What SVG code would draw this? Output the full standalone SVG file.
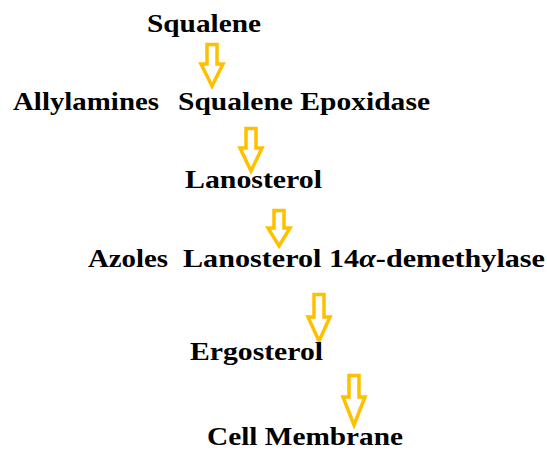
<svg xmlns="http://www.w3.org/2000/svg" width="547" height="452" viewBox="0 0 547 452">
<style>
.t{font-family:"Liberation Serif","Times New Roman",serif;font-weight:bold;font-size:26px;fill:#000}
.a{fill:#fff;stroke:#FFC000;stroke-width:3.5;stroke-linejoin:miter}
</style>
<rect width="547" height="452" fill="#fff"/>
<g id="connectors">
<path class="a" d="M207,44.5 H217 V64 H223 L212,86 L201,64 H207 Z"/>
<path class="a" d="M246,128.5 H256 V148 H262 L251,171 L240,148 H246 Z"/>
<path class="a" d="M274,210.5 H284 V228 H290 L279,246 L268,228 H274 Z"/>
<path class="a" d="M314,294.5 H324 V317 H330 L319,341 L308,317 H314 Z"/>
<path class="a" d="M349,375.5 H359 V397 H365 L354,425 L343,397 H349 Z"/>
</g>
<g id="squalene"><text class="t" x="147" y="32" textLength="114" lengthAdjust="spacingAndGlyphs">Squalene</text></g>
<g id="allylamines"><text class="t" x="13" y="110" textLength="146" lengthAdjust="spacingAndGlyphs">Allylamines</text></g>
<g id="squalene-epoxidase"><text class="t" x="178" y="110" textLength="252" lengthAdjust="spacingAndGlyphs">Squalene Epoxidase</text></g>
<g id="lanosterol"><text class="t" x="185" y="188" textLength="137" lengthAdjust="spacingAndGlyphs">Lanosterol</text></g>
<g id="azoles"><text class="t" x="88" y="267" textLength="80" lengthAdjust="spacingAndGlyphs">Azoles</text></g>
<g id="lanosterol-demethylase"><text class="t" x="183" y="267" textLength="362" lengthAdjust="spacingAndGlyphs">Lanosterol 14<tspan font-style="italic">α</tspan>-demethylase</text></g>
<g id="ergosterol"><text class="t" x="190" y="360" textLength="133" lengthAdjust="spacingAndGlyphs">Ergosterol</text></g>
<g id="cell-membrane"><text class="t" x="207" y="445" textLength="196" lengthAdjust="spacingAndGlyphs">Cell Membrane</text></g>
</svg>
